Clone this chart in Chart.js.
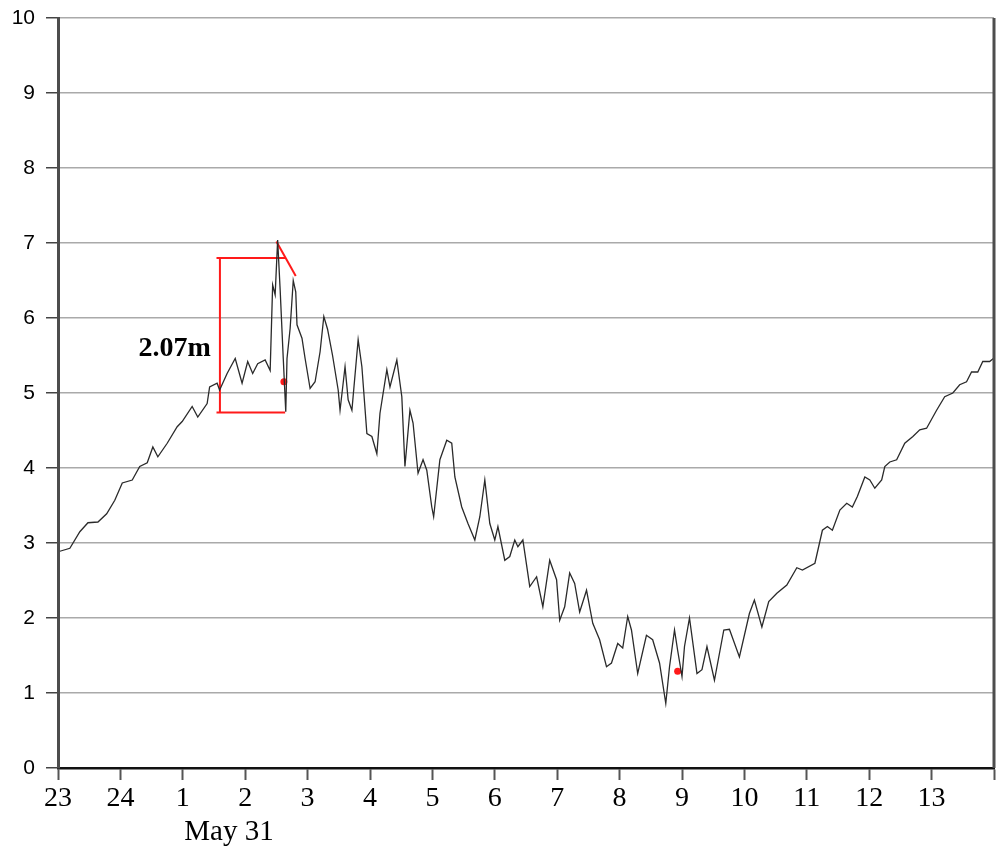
<!DOCTYPE html>
<html>
<head>
<meta charset="utf-8">
<script src="https://cdn.jsdelivr.net/npm/chart.js@4/dist/chart.umd.min.js"></script>
<style>
  body { margin: 0; background: #fff; }
  #wrap { width: 997px; height: 850px; position: relative; }
</style>
</head>
<body>
<div id="wrap"><canvas id="tideChart"></canvas></div>
<script>
// ---------- DATA ----------
// hours since 23:00 (May 30), water level in metres
const hours = [
  0.03, 0.19, 0.35, 0.48, 0.64, 0.78, 0.91, 1.03, 1.19, 1.31, 1.43, 1.52, 1.60, 1.75, 1.91, 1.99,
  2.15, 2.24, 2.39, 2.43, 2.55, 2.59, 2.71, 2.84, 2.95, 3.04, 3.12, 3.20, 3.32, 3.40, 3.44, 3.48,
  3.52, 3.56, 3.61, 3.65, 3.67, 3.72, 3.77, 3.81, 3.83, 3.91, 3.96, 4.04, 4.12, 4.20, 4.26, 4.32,
  4.40, 4.49, 4.52, 4.60, 4.65, 4.71, 4.81, 4.87, 4.95, 5.03, 5.11, 5.16, 5.27, 5.32, 5.43, 5.51,
  5.56, 5.64, 5.69, 5.77, 5.85, 5.91, 5.99, 6.02, 6.12, 6.23, 6.31, 6.36, 6.47, 6.57, 6.68, 6.76,
  6.84, 6.92, 7.00, 7.05, 7.16, 7.24, 7.32, 7.37, 7.45, 7.56, 7.67, 7.77, 7.88, 7.99, 8.04, 8.12,
  8.20, 8.28, 8.36, 8.47, 8.57, 8.68, 8.79, 8.87, 8.97, 9.05, 9.13, 9.19, 9.29, 9.43, 9.53, 9.64,
  9.74, 9.80, 9.88, 9.93, 10.00, 10.04, 10.12, 10.24, 10.32, 10.40, 10.52, 10.67, 10.76, 10.92, 11.08, 11.16,
  11.28, 11.39, 11.52, 11.68, 11.84, 11.93, 12.13, 12.25, 12.33, 12.41, 12.53, 12.64, 12.73, 12.81, 12.93, 13.01,
  13.09, 13.20, 13.25, 13.33, 13.44, 13.57, 13.70, 13.81, 13.92, 14.08, 14.21, 14.34, 14.45, 14.56, 14.64, 14.74,
  14.82, 14.93, 14.99
];
const levels = [
  2.89, 2.93, 3.15, 3.27, 3.28, 3.39, 3.57, 3.80, 3.84, 4.02, 4.07, 4.28, 4.15, 4.33, 4.55, 4.62,
  4.82, 4.68, 4.86, 5.08, 5.13, 5.04, 5.26, 5.46, 5.13, 5.42, 5.26, 5.39, 5.44, 5.30, 6.44, 6.31,
  7.04, 6.38, 5.46, 4.75, 5.46, 5.86, 6.50, 6.35, 5.91, 5.73, 5.46, 5.06, 5.15, 5.55, 6.02, 5.85,
  5.50, 5.04, 4.77, 5.35, 4.91, 4.77, 5.71, 5.35, 4.46, 4.42, 4.19, 4.73, 5.31, 5.08, 5.44, 4.95,
  4.02, 4.77, 4.60, 3.93, 4.11, 3.97, 3.48, 3.35, 4.11, 4.37, 4.33, 3.88, 3.48, 3.26, 3.04, 3.35,
  3.84, 3.26, 3.04, 3.22, 2.77, 2.82, 3.04, 2.95, 3.04, 2.42, 2.55, 2.15, 2.77, 2.51, 1.97, 2.15,
  2.60, 2.46, 2.08, 2.37, 1.93, 1.71, 1.35, 1.40, 1.66, 1.60, 2.02, 1.84, 1.26, 1.77, 1.71, 1.40,
  0.86, 1.35, 1.84, 1.57, 1.22, 1.62, 2.00, 1.26, 1.31, 1.62, 1.17, 1.84, 1.85, 1.48, 2.06, 2.24,
  1.88, 2.22, 2.33, 2.44, 2.67, 2.64, 2.73, 3.17, 3.22, 3.17, 3.44, 3.53, 3.48, 3.62, 3.88, 3.84,
  3.73, 3.84, 4.02, 4.08, 4.11, 4.33, 4.42, 4.51, 4.53, 4.77, 4.95, 5.00, 5.11, 5.15, 5.28, 5.28,
  5.42, 5.42, 5.46
];

const hourLabels = ["23", "24", "1", "2", "3", "4", "5", "6", "7", "8", "9", "10", "11", "12", "13"];
const dayLabel = "May 31";
const dayLabelHour = 2.74;

// measured surge range (red bracket)
const rangeHours = [2.54, 3.64];
const rangeLevels = [6.80, 4.74];
const rangeBarHour = 2.595;
const rangeText = "2.07m";
const rangeTextAt = [1.87, 5.59];
const slopeHours = [3.50, 3.81];
const slopeLevels = [7.02, 6.56];

// red markers
const markHours = [3.62, 9.93];
const markLevels = [5.15, 1.29];

// ---------- DATASETS ----------
const tideData = hours.map((h, i) => ({ x: h, y: levels[i] }));
const red = "#ff1a1a";

function redLine(points) {
  return {
    data: points,
    borderColor: red,
    borderWidth: 2,
    pointRadius: 0,
    tension: 0
  };
}

const datasets = [
  {
    data: tideData,
    borderColor: "#2a2a2a",
    borderWidth: 1.3,
    pointRadius: 0,
    tension: 0
  },
  redLine([{ x: rangeHours[0], y: rangeLevels[0] }, { x: rangeHours[1], y: rangeLevels[0] }]),
  redLine([{ x: rangeHours[0], y: rangeLevels[1] }, { x: rangeHours[1], y: rangeLevels[1] }]),
  redLine([{ x: rangeBarHour, y: rangeLevels[0] }, { x: rangeBarHour, y: rangeLevels[1] }]),
  redLine([{ x: slopeHours[0], y: slopeLevels[0] }, { x: slopeHours[1], y: slopeLevels[1] }]),
  {
    data: markHours.map((h, i) => ({ x: h, y: markLevels[i] })),
    showLine: false,
    pointRadius: 3.5,
    pointBackgroundColor: red,
    pointBorderWidth: 0
  }
];

// ---------- EXTRA TEXT / FRAME ----------
const extrasPlugin = {
  id: "extras",
  afterDraw(chart) {
    const { ctx, chartArea, scales } = chart;
    ctx.save();
    // right frame line
    ctx.strokeStyle = "#4d4d4d";
    ctx.lineWidth = 3;
    ctx.beginPath();
    ctx.moveTo(chartArea.right, chartArea.top);
    ctx.lineTo(chartArea.right, chartArea.bottom);
    ctx.stroke();

    ctx.fillStyle = "#000";
    ctx.textAlign = "center";
    ctx.textBaseline = "middle";
    ctx.font = "29px 'Liberation Serif'";
    ctx.fillText(dayLabel, scales.x.getPixelForValue(dayLabelHour), 832);

    ctx.font = "bold 28px 'Liberation Serif'";
    ctx.fillText(rangeText, scales.x.getPixelForValue(rangeTextAt[0]), scales.y.getPixelForValue(rangeTextAt[1]));
    ctx.restore();
  }
};

// ---------- CHART ----------
new Chart(document.getElementById("tideChart"), {
  type: "line",
  data: { datasets },
  options: {
    responsive: true,
    maintainAspectRatio: false,
    animation: false,
    layout: { autoPadding: false, padding: { top: 18, right: 3, left: 0, bottom: 0 } },
    plugins: {
      legend: { display: false },
      tooltip: { enabled: false }
    },
    scales: {
      x: {
        type: "linear",
        min: 0,
        max: 15,
        afterFit: (scale) => {
          scale.height = 82;
          scale.paddingLeft = 0;
          scale.paddingRight = 0;
        },
        ticks: {
          stepSize: 1,
          autoSkip: false,
          maxRotation: 0,
          padding: 2,
          color: "#000",
          font: { family: "'Liberation Serif'", size: 28 },
          callback: (v) => hourLabels[v] ?? ""
        },
        grid: {
          drawOnChartArea: false,
          drawTicks: true,
          tickLength: 12,
          tickColor: "#555",
          tickWidth: 2
        },
        border: { color: "#111", width: 2.5 }
      },
      y: {
        min: 0,
        max: 10,
        afterFit: (scale) => {
          scale.width = 58;
          scale.paddingTop = 0;
          scale.paddingBottom = 0;
        },
        ticks: {
          stepSize: 1,
          padding: 11,
          color: "#000",
          font: { family: "'Liberation Sans'", size: 21 }
        },
        grid: {
          color: "#aaaaaa",
          lineWidth: 1.5,
          drawTicks: true,
          tickLength: 12,
          tickColor: "#444",
          tickWidth: 1.5
        },
        border: { color: "#4d4d4d", width: 3 }
      }
    }
  },
  plugins: [extrasPlugin]
});
</script>
</body>
</html>
